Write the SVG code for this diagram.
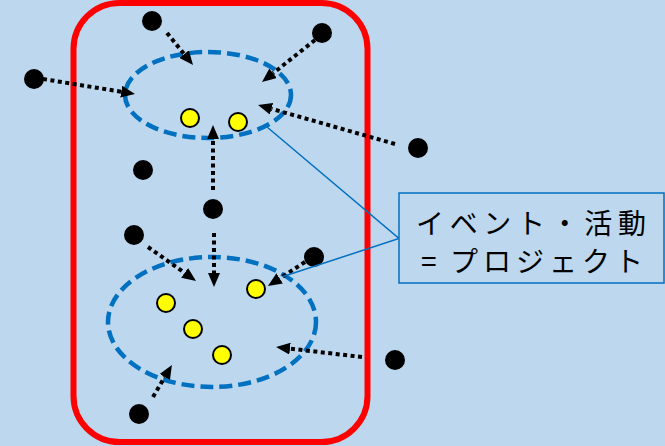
<svg xmlns="http://www.w3.org/2000/svg" width="665" height="446" viewBox="0 0 665 446">
  <style>
    .dot { fill: #000000; }
    .person { fill: #FFFF00; stroke: #000000; stroke-width: 2; }
    .group { fill: none; stroke: #0070C0; stroke-width: 4.5; stroke-dasharray: 13 6; }
    .arrow { stroke: #000000; stroke-width: 4; stroke-dasharray: 4 3.5; fill: none; marker-end: url(#head); }
    .callout { stroke: #0070C0; stroke-width: 1.5; fill: none; }
    .label { font-family: "Noto Sans CJK JP", "Noto Sans", sans-serif; font-size: 28px; fill: #000000; }
  </style>
  <defs>
    <marker id="head" markerUnits="userSpaceOnUse" markerWidth="14" markerHeight="12" refX="0" refY="6" orient="auto">
      <path d="M0,0 L14,6 L0,12 Z" fill="#000000"/>
    </marker>
  </defs>
  <rect x="0" y="0" width="665" height="446" fill="#BDD7EE"/>

  <g id="community">
    <rect x="73.5" y="3" width="294" height="439" rx="46" ry="46" fill="none" stroke="#FF0000" stroke-width="6"/>
  </g>

  <g id="project-upper">
    <ellipse class="group" cx="208" cy="95" rx="83" ry="43"/>
    <circle class="person" cx="190" cy="118" r="9"/>
    <circle class="person" cx="238" cy="122" r="9"/>
  </g>

  <g id="project-lower">
    <ellipse class="group" cx="212" cy="322" rx="104" ry="65"/>
    <circle class="person" cx="166" cy="303" r="9"/>
    <circle class="person" cx="193" cy="329" r="9"/>
    <circle class="person" cx="222" cy="355" r="9"/>
    <circle class="person" cx="256" cy="289" r="9"/>
  </g>

  <g id="people">
    <circle id="p1" class="dot" cx="152" cy="21" r="10"/>
    <circle id="p2" class="dot" cx="322" cy="33" r="10"/>
    <circle id="p3" class="dot" cx="34" cy="79" r="10"/>
    <circle id="p4" class="dot" cx="418" cy="148" r="10"/>
    <circle id="p5" class="dot" cx="143" cy="170" r="10"/>
    <circle id="p6" class="dot" cx="213" cy="209" r="10"/>
    <circle id="p7" class="dot" cx="134" cy="235" r="10"/>
    <circle id="p8" class="dot" cx="314" cy="257" r="10"/>
    <circle id="p9" class="dot" cx="395" cy="360" r="10"/>
    <circle id="p10" class="dot" cx="139" cy="414" r="10"/>
  </g>

  <g id="connectors">
    <line class="arrow" x1="167" y1="33" x2="184.2" y2="54.1"/>
    <line class="arrow" x1="315" y1="40" x2="273" y2="73.3"/>
    <line class="arrow" x1="43" y1="79" x2="121.2" y2="91.7"/>
    <line class="arrow" x1="395" y1="144" x2="271.5" y2="108.8"/>
    <line class="arrow" x1="213" y1="190" x2="213" y2="139"/>
    <line class="arrow" x1="214" y1="233" x2="214" y2="273"/>
    <line class="arrow" x1="148" y1="247" x2="184.6" y2="272.9"/>
    <line class="arrow" x1="305" y1="262" x2="279.7" y2="278.4"/>
    <line class="arrow" x1="362" y1="357" x2="290" y2="348.6"/>
    <line class="arrow" x1="153" y1="397" x2="164.8" y2="377"/>
    <polyline class="callout" points="267,127 399,238.5 283,276.5"/>
  </g>

  <g id="callout-box">
    <rect x="399" y="193" width="265" height="90" fill="#BDD7EE" stroke="#0070C0" stroke-width="1.5"/>
    <text class="label" x="416" y="234" textLength="230" lengthAdjust="spacing">イベント・活動</text>
    <text class="label" y="272"><tspan x="421">=</tspan><tspan x="450" textLength="193" lengthAdjust="spacing">プロジェクト</tspan></text>
  </g>
</svg>
